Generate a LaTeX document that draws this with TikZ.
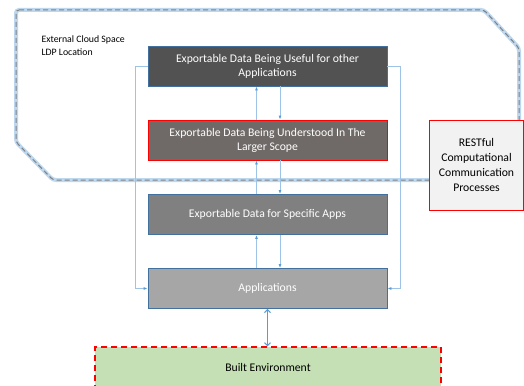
\documentclass[tikz,border=0pt]{standalone}
\usepackage{fontspec}
\setmainfont{Carlito}
\usetikzlibrary{arrows.meta}

\definecolor{linkblue}{HTML}{9DC3E6}
\definecolor{tipblue}{HTML}{5B9BD5}
\definecolor{glowblue}{HTML}{BDD7EE}
\definecolor{edgeblue}{HTML}{41719C}
\definecolor{envgreen}{HTML}{C5E0B4}
\definecolor{scopegray}{HTML}{6F6A68}

\tikzset{
    layer/.style={draw=edgeblue, line width=0.8pt, text=white, align=center,
        minimum width=239pt, minimum height=40pt, font=\fontsize{11.7}{14}\selectfont},
    link/.style={draw=linkblue, line width=0.8pt, -{Latex[length=4pt,width=3pt,color=tipblue]}},
}

\begin{document}
\begin{tikzpicture}[x=1pt,y=-1pt]
\useasboundingbox (0,0) rectangle (524,385);

% ===== Cloud space outline =====
\draw[glowblue, line width=4pt, rounded corners=3pt]
    (16,10) -- (484,10) -- (519,48) -- (519,180) -- (53,180) -- (16,142) -- cycle;
\draw[gray, line width=1pt, dash pattern=on 5pt off 3pt, rounded corners=3pt]
    (16,10) -- (484,10) -- (519,48) -- (519,180) -- (53,180) -- (16,142) -- cycle;

\node[anchor=north west, align=left, font=\fontsize{9.8}{13}\selectfont] (cloud) at (38,32)
    {External Cloud Space\\LDP Location};

% ===== Layers =====
\node[layer, fill=black!68] (useful) at (267.5,66)
    {Exportable Data Being Useful for other\\Applications};
\node[layer, fill=scopegray, draw=red] (larger) at (267.5,140)
    {Exportable Data Being Understood In The\\Larger Scope};
\node[layer, fill=black!50] (specific) at (267.5,214.5)
    {Exportable Data for Specific Apps};
\node[layer, fill=black!35] (apps) at (267.5,288.5)
    {Applications};

% ===== RESTful box =====
\node[draw=red, line width=0.8pt, fill=black!5, align=center, minimum width=94pt,
    minimum height=90pt, font=\fontsize{11.7}{14.8}\selectfont] (rest) at (476.5,165)
    {RESTful\\Computational\\Communication\\Processes};

% ===== Built environment =====
\node[draw=red, fill=envgreen, line width=1.2pt, dash pattern=on 6pt off 4pt,
    minimum width=346pt, minimum height=40pt, font=\fontsize{11.7}{14}\selectfont] (built) at (268,367)
    {Built Environment};

% ===== Connectors =====
\draw[link] (useful.west) -- ++(-12,0) |- (apps.west);
\draw[link] (useful.east) -- ++(13,0) |- (apps.east);

\draw[link] ([xshift=-11pt]apps.north) -- ([xshift=-11pt]specific.south);
\draw[link] ([xshift=12.5pt]specific.south) -- ([xshift=12.5pt]apps.north);
\draw[link] ([xshift=-11pt]specific.north) -- ([xshift=-11pt]larger.south);
\draw[link] ([xshift=12.5pt]larger.south) -- ([xshift=12.5pt]specific.north);
\draw[link] ([xshift=-11pt]larger.north) -- ([xshift=-11pt]useful.south);
\draw[link] ([xshift=12.5pt]useful.south) -- ([xshift=12.5pt]larger.north);

\draw[tipblue, line width=1pt, {Straight Barb[length=3pt]}-{Straight Barb[length=3pt]}]
    (apps.south) -- (apps.south |- built.north);

\end{tikzpicture}
\end{document}
